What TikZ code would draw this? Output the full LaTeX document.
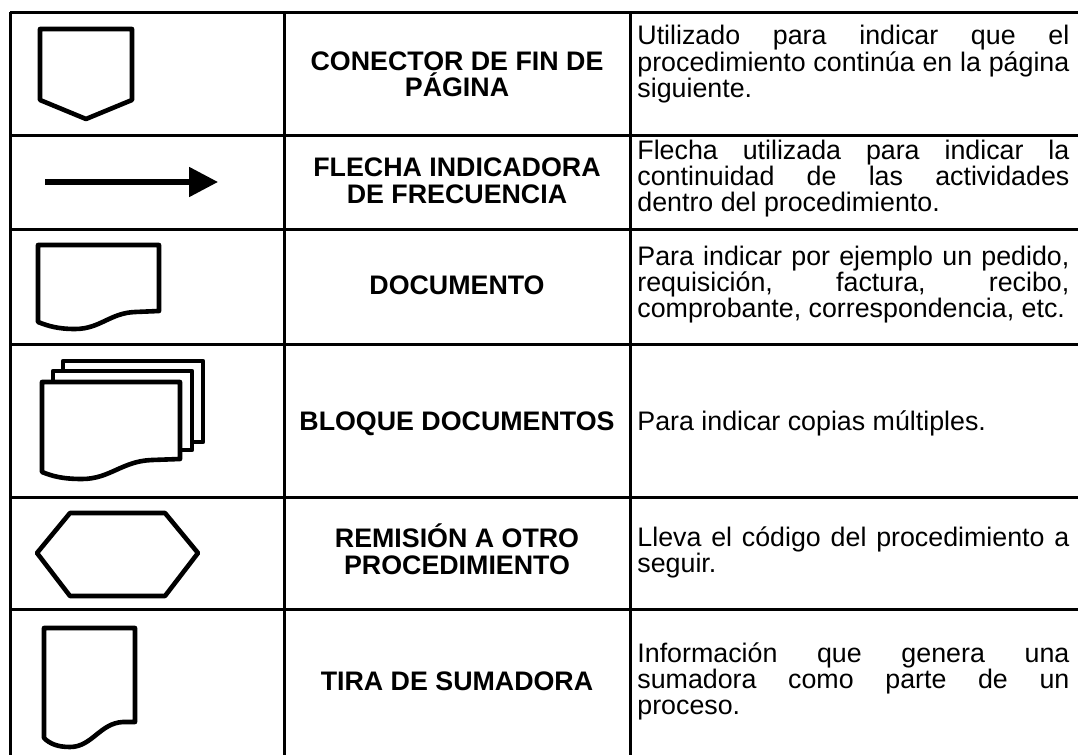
\documentclass[tikz,border=0pt]{standalone}
\usepackage{fontspec}
\setmainfont{Liberation Sans}
\usetikzlibrary{arrows.meta}
\tolerance=10000
\hbadness=10000
\tikzset{%
  rejilla/.style = {line width=1.5pt},
  simbolo/.style = {line width=2.3pt, line join=round, fill=white},
  flecha/.style = {line width=2.6pt,
        -{Triangle[length=14.5pt,width=14.5pt]}},
  titulo/.style = {font=\fontsize{13.4}{13.2}\selectfont\bfseries,
        align=center, inner sep=0pt, anchor=base},
  texto/.style = {font=\fontsize{13.4}{13.2}\selectfont,
        align=justify, text width=216pt, inner sep=0pt, anchor=base west}
}
\begin{document}
\begin{tikzpicture}[x=0.5pt, y=-0.5pt]
\useasboundingbox (0,0) rectangle (1078,755);
% rejilla de la tabla
\foreach \y in {12,135,229,344,497,609}
    \draw[rejilla] (10,\y) -- (1078,\y);
\foreach \x in {10,284,630}
    \draw[rejilla] (\x,12) -- (\x,755);

% conector de fin de pagina
\draw[simbolo] (40,29) -- (132,29) -- (132,100) -- (86,119) -- (40,100) -- cycle;
% flecha
\coordinate (flechaini) at (45,182);
\coordinate (flechafin) at (218,182);
\draw[flecha] (flechaini) -- (flechafin);
% documento
\draw[simbolo] (38,322) -- (38,245) -- (159,245) -- (159,311) -- (135,312)
    .. controls (110,313) and (100,329) .. (75,329)
    .. controls (58,329) and (48,326) .. cycle;
% bloque documentos
\draw[simbolo] (63,442) rectangle (203,361);
\draw[simbolo] (53,450) rectangle (192,371);
\draw[simbolo] (42,472) -- (42,382) -- (180,382) -- (180,459) -- (152,460)
    .. controls (122,461) and (110,479) .. (82,479)
    .. controls (62,479) and (52,476) .. cycle;
% remision
\draw[simbolo] (37,553) -- (70,513) -- (165,513) -- (198,553) -- (165,596)
    -- (70,596) -- cycle;
% tira de sumadora
\draw[simbolo] (44,738) -- (44,628) -- (135,628) -- (135,722) -- (123,722)
    .. controls (100,723) and (92,747) .. (70,747)
    .. controls (58,747) and (50,744) .. cycle;

% nombres (base = ultima linea)
\node[titulo] (conector) at (457,96.5) {CONECTOR DE FIN DE\\PÁGINA};
\node[titulo] (frecuencia) at (457,203) {FLECHA INDICADORA\\DE FRECUENCIA};
\node[titulo] (documento) at (457,294) {DOCUMENTO};
\node[titulo] (bloque) at (457,430) {BLOQUE DOCUMENTOS};
\node[titulo] (remision) at (457,574) {REMISIÓN A OTRO\\PROCEDIMIENTO};
\node[titulo] (tira) at (457,690) {TIRA DE SUMADORA};

% descripciones (base = primera linea)
\node[texto] (conectortxt) at (637,45) {Utilizado para indicar que el\linebreak
    procedimiento continúa en la página\linebreak siguiente.};
\node[texto] (frecuenciatxt) at (637,159) {Flecha utilizada para indicar la\linebreak
    continuidad de las actividades\linebreak dentro del procedimiento.};
\node[texto] (documentotxt) at (637,265) {Para indicar por ejemplo un pedido,\linebreak
    requisición, factura, recibo,\linebreak \mbox{comprobante, correspondencia, etc.}};
\node[texto] (bloquetxt) at (637,430) {Para indicar copias múltiples.};
\node[texto] (remisiontxt) at (637,546) {Lleva el código del procedimiento a\linebreak
    seguir.};
\node[texto] (tiratxt) at (637,662) {Información que genera una\linebreak
    sumadora como parte de un\linebreak proceso.};
\end{tikzpicture}
\end{document}
